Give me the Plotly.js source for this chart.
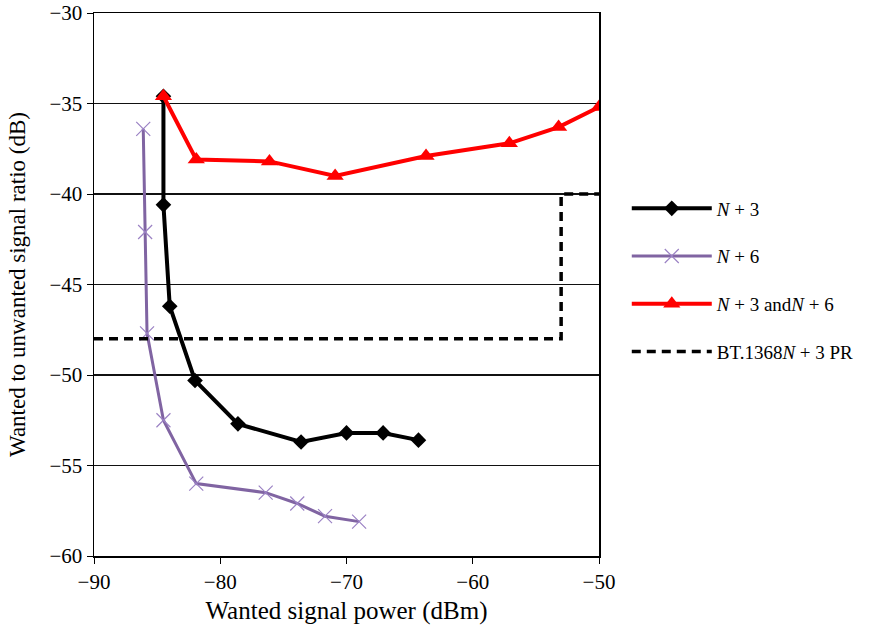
<!DOCTYPE html>
<html><head><meta charset="utf-8">
<script src="https://cdn.plot.ly/plotly-3.0.1.min.js"></script>
<style>html,body{margin:0;padding:0;background:#fff}#chart{width:869px;height:635px}</style>
</head><body><div id="chart"></div>
<script>
const n3X = [-84.5, -84.5, -84.0, -82.0, -78.6, -73.6, -70.0, -67.1, -64.3];
const n3Y = [-34.6, -40.6, -46.2, -50.3, -52.7, -53.7, -53.2, -53.2, -53.6];
const n6X = [-86.1, -85.95, -85.8, -84.5, -81.9, -76.4, -73.9, -71.7, -69.0];
const n6Y = [-36.4, -42.1, -47.7, -52.5, -56.0, -56.5, -57.1, -57.8, -58.1];
const bothX = [-84.5, -81.9, -76.1, -70.9, -63.7, -57.1, -53.2, -50.0];
const bothY = [-34.6, -38.1, -38.2, -39.0, -37.9, -37.2, -36.3, -35.2];
const prX = [-90, -53, -53, -50];
const prY = [-48, -48, -40, -40];
const names = ['<i>N</i> + 3', '<i>N</i> + 6', '<i>N</i> + 3 and<i>N</i> + 6', 'BT.1368<i>N</i> + 3 PR'];
const xTicks = [-90, -80, -70, -60, -50];
const yTicks = [-60, -55, -50, -45, -40, -35, -30];
const fmt = v => v < 0 ? '\u2212' + Math.abs(v) : String(v);

const traces = [
  {x: n3X, y: n3Y, name: names[0], legendgroup: 'a', mode: 'lines+markers',
   line: {color: '#000', width: 4}, marker: {symbol: 'diamond', size: 12, color: '#000'}},
  {x: n6X, y: n6Y, name: names[1], legendgroup: 'b', mode: 'lines+markers',
   line: {color: '#8064a2', width: 3}, marker: {symbol: 'x-thin', size: 14, line: {color: '#9b82c4', width: 1.2}}},
  {x: bothX, y: bothY, name: names[2], legendgroup: 'c', mode: 'lines+markers',
   line: {color: '#ff0000', width: 4}, marker: {symbol: 'triangle-up', size: 15, color: '#ff0000'}},
  {x: prX, y: prY, name: names[3], legendgroup: 'd', mode: 'lines',
   line: {color: '#000', width: 3.5, dash: '9px,6px'}}
];

const layout = {
  width: 869, height: 635,
  margin: {l: 94, r: 270, t: 13, b: 79, autoexpand: false},
  paper_bgcolor: '#fff', plot_bgcolor: '#fff',
  font: {family: 'Liberation Serif, Times New Roman, serif', color: '#000', size: 21},
  showlegend: true,
  legend: {x: 1.055, y: 0.675, xanchor: 'left', yanchor: 'top', font: {size: 19},
           itemwidth: 80, tracegroupgap: 20, bgcolor: 'rgba(0,0,0,0)'},
  xaxis: {range: [-90, -50], tickvals: xTicks, ticktext: xTicks.map(fmt),
          ticks: 'outside', ticklen: 6, tickcolor: '#000', showgrid: false, zeroline: false,
          showline: true, linecolor: '#000', linewidth: 1.5, mirror: true,
          title: {text: 'Wanted signal power (dBm)', font: {size: 25}, standoff: 9}},
  yaxis: {range: [-60, -30], tickvals: yTicks, ticktext: yTicks.map(fmt),
          ticks: 'outside', ticklen: 6, tickcolor: '#000', showgrid: true, gridcolor: '#111', gridwidth: 1.5,
          zeroline: false, showline: true, linecolor: '#000', linewidth: 1.5, mirror: true,
          title: {text: 'Wanted to unwanted signal ratio (dB)', font: {size: 23}, standoff: 17}}
};
Plotly.newPlot('chart', traces, layout, {displayModeBar: false, staticPlot: true});
</script></body></html>
